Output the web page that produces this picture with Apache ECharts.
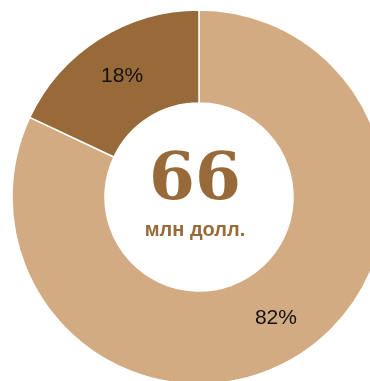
<!DOCTYPE html>
<html>
<head>
<meta charset="utf-8">
<script src="https://cdn.jsdelivr.net/npm/echarts@6/dist/echarts.min.js"></script>
<style>
html, body { margin: 0; padding: 0; background: #fff; }
#chart { width: 370px; height: 381px; }
</style>
</head>
<body>
<div id="chart"></div>
<script>
// доли (в процентах), по часовой стрелке от 12 часов
var shareNames = ['Прочее', 'Доля'];
var shareValues = [82, 18];
var sliceColors = ['#d2ab83', '#986a39'];
var totalValue = '66';
var totalUnit = 'млн долл.';

var chart = echarts.init(document.getElementById('chart'));
var data = [];
for (var i = 0; i < shareValues.length; i++) {
    data.push({
        name: shareNames[i],
        value: shareValues[i],
        itemStyle: { color: sliceColors[i] }
    });
}

chart.setOption({
    animation: false,
    graphic: [{
        type: 'text',
        left: 199 - 50, top: 149,
        style: {
            text: totalValue,
            width: 100,
            align: 'center',
            fill: '#986a39',
            font: 'bold 66px "DejaVu Serif", serif'
        }
    }, {
        type: 'text',
        style: {
            x: 195, y: 230,
            text: totalUnit,
            align: 'center',
            verticalAlign: 'middle',
            fill: '#986a39',
            font: 'bold 20px "Liberation Sans", Arial, sans-serif'
        }
    }],
    series: [{
        type: 'pie',
        center: [199, 197],
        radius: [94, 187],
        startAngle: 90,
        clockwise: true,
        silent: true,
        data: data,
        itemStyle: { borderColor: '#fff', borderWidth: 1.5 },
        label: {
            position: 'inside',
            formatter: '{c}%',
            color: '#111',
            fontSize: 21,
            fontFamily: '"Liberation Sans", Arial, sans-serif'
        },
        labelLine: { show: false }
    }]
});
</script>
</body>
</html>
